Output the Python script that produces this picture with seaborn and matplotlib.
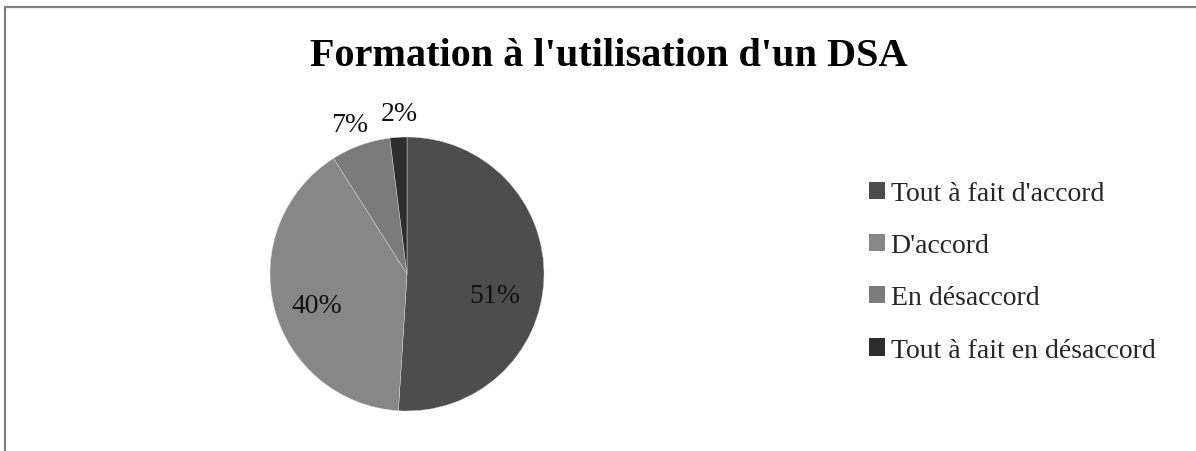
import matplotlib
matplotlib.use("Agg")
import matplotlib.pyplot as plt
from matplotlib.lines import Line2D
from matplotlib.patches import Patch
import numpy as np
import seaborn as sns

categories = ["Tout à fait d'accord", "D'accord", "En désaccord", "Tout à fait en désaccord"]
values = [51, 40, 7, 2]
pct_labels = ["51%", "40%", "7%", "2%"]
colors = ["#4d4d4d", "#878787", "#7b7b7b", "#2d2d2d"]
title = "Formation à l'utilisation d'un DSA"

sns.set_theme(style="white")
plt.rcParams['font.family'] = ['Liberation Serif', 'DejaVu Serif']

W, H = 1196, 452
fig = plt.figure(figsize=(W / 100, H / 100), dpi=100)
fig.patch.set_facecolor("white")

# pie axes: center (407, 275) px, radius 137 px, limits +-1.25
r_px = 137
cx, cy = 407, 275
half = r_px * 1.25
ax = fig.add_axes([(cx - half) / W, (H - cy - half) / H, 2 * half / W, 2 * half / H])
wedges, _ = ax.pie(values, colors=colors, startangle=90, counterclock=False,
                   wedgeprops=dict(linewidth=0.3, edgecolor="#dddddd"))
ax.set_xlim(-1.25, 1.25)
ax.set_ylim(-1.25, 1.25)
ax.set_aspect("equal")
ax.axis("off")

# percentage labels (radius, angle offset in degrees from slice middle)
label_pos = [(0.66, -12), (0.70, 5), (1.17, 1), (1.17, -1)]
for w, lab, (rr, off) in zip(wedges, pct_labels, label_pos):
    mid = np.deg2rad((w.theta1 + w.theta2) / 2 + off)
    ax.text(rr * np.cos(mid), rr * np.sin(mid), lab, ha="center", va="center",
            fontsize=20, color="#111111", clip_on=False)

fig.text(609 / W, (H - 57) / H, title, ha="center", va="center",
         fontsize=29, fontweight="bold", color="black")

handles = [Patch(facecolor=c, edgecolor="none") for c in colors]
fig.legend(handles, categories, loc="upper left",
           bbox_to_anchor=(869 / W, (H - 182) / H), frameon=False,
           fontsize=20, handlelength=0.58, handleheight=0.58,
           handletextpad=0.2, labelspacing=0.98, borderaxespad=0, borderpad=0)

# chart border (top and left visible)
fig.add_artist(Line2D([4.5 / W, 4.5 / W], [0, (H - 7.5) / H], color="#808080", lw=1.6,
                      transform=fig.transFigure))
fig.add_artist(Line2D([4.5 / W, 1], [(H - 7.5) / H, (H - 7.5) / H], color="#808080", lw=1.6,
                      transform=fig.transFigure))

fig.savefig("out.png", dpi=100)
